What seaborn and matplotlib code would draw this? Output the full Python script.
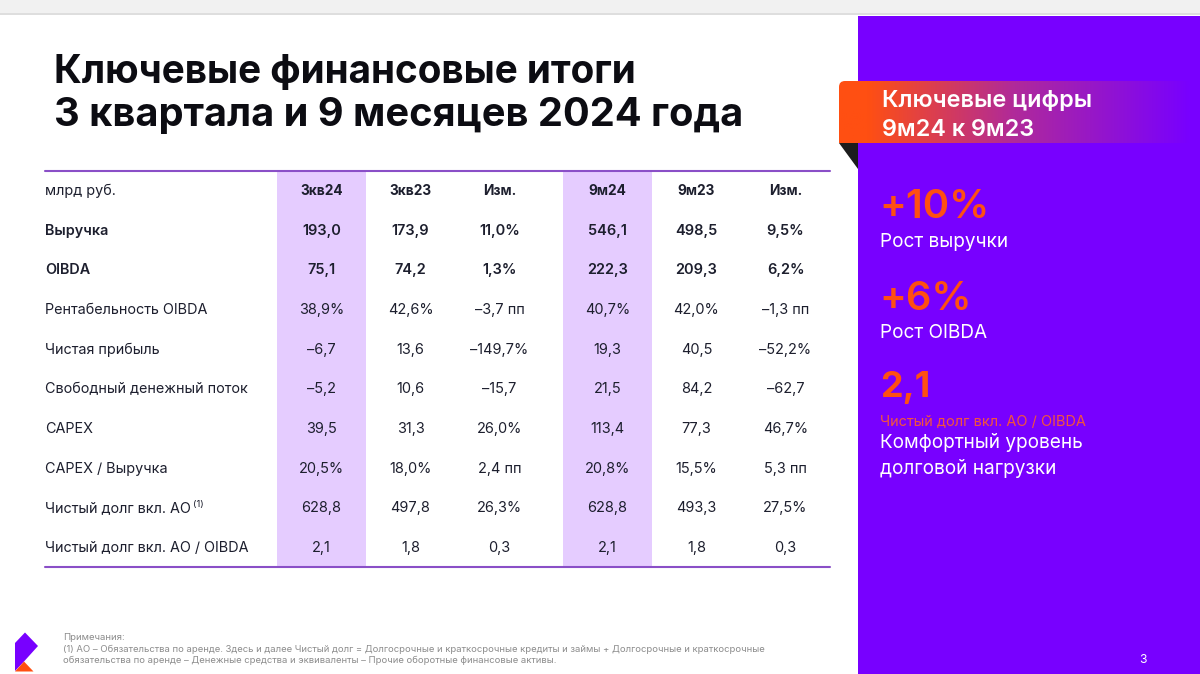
import numpy as np
import pandas as pd
import matplotlib.pyplot as plt
from matplotlib.patches import Polygon, Rectangle, FancyBboxPatch
from matplotlib.colors import LinearSegmentedColormap, ListedColormap
import seaborn as sns

sns.set_style("white")
plt.rcParams['font.family'] = ['Inter', 'DejaVu Sans']

W, H = 1200, 674
PURPLE = '#7800FF'
ORANGE = '#FF4F12'
INK = '#1d1f2e'

row_labels = ['млрд руб.', 'Выручка', 'OIBDA', 'Рентабельность OIBDA', 'Чистая прибыль',
              'Свободный денежный поток', 'CAPEX', 'CAPEX / Выручка',
              'Чистый долг вкл. АО', 'Чистый долг вкл. АО / OIBDA']
q3_24 = ['3кв24', '193,0', '75,1', '38,9%', '–6,7', '–5,2', '39,5', '20,5%', '628,8', '2,1']
q3_23 = ['3кв23', '173,9', '74,2', '42,6%', '13,6', '10,6', '31,3', '18,0%', '497,8', '1,8']
q3_chg = ['Изм.', '11,0%', '1,3%', '–3,7 пп', '–149,7%', '–15,7', '26,0%', '2,4 пп', '26,3%', '0,3']
m9_24 = ['9м24', '546,1', '222,3', '40,7%', '19,3', '21,5', '113,4', '20,8%', '628,8', '2,1']
m9_23 = ['9м23', '498,5', '209,3', '42,0%', '40,5', '84,2', '77,3', '15,5%', '493,3', '1,8']
m9_chg = ['Изм.', '9,5%', '6,2%', '–1,3 пп', '–52,2%', '–62,7', '46,7%', '5,3 пп', '27,5%', '0,3']
bold_rows = [0, 1, 2]

title_lines = ['Ключевые финансовые итоги', '3 квартала и 9 месяцев 2024 года']
note_lines = ['Примечания:',
              '(1) АО – Обязательства по аренде. Здесь и далее Чистый долг = Долгосрочные и краткосрочные кредиты и займы + Долгосрочные и краткосрочные',
              'обязательства по аренде – Денежные средства и эквиваленты – Прочие оборотные финансовые активы.']


def pt(px):
    return px * 0.72


def table_block(box, cols, labels=None):
    # one heatmap per group of three columns, only the first column is tinted
    x0, y0, x1, y1 = box
    ax = fig.add_axes([x0 / W, 1 - y1 / H, (x1 - x0) / W, (y1 - y0) / H])
    annot = np.array(cols).T
    tint = pd.DataFrame(np.zeros(annot.shape))
    tint[0] = 1
    sns.heatmap(tint, annot=annot, fmt='', cbar=False, vmin=0, vmax=1, ax=ax,
                cmap=ListedColormap(['white', '#E5CCFF']),
                annot_kws={'size': pt(14.5), 'color': INK},
                xticklabels=False, yticklabels=labels if labels else False)
    for i, t in enumerate(ax.texts):
        t.set_y(t.get_position()[1] + 0.025)
        if i // 3 == 0:
            t.set_fontweight('bold')
            t.set_fontsize(pt(13.7))
        elif i // 3 in bold_rows:
            t.set_fontweight('semibold')
    ax.patch.set_alpha(0)
    return ax


fig = plt.figure(figsize=(W / 100, H / 100), dpi=100, facecolor='white')

# page furniture drawn in pixel coordinates
bg = fig.add_axes([0, 0, 1, 1])
bg.axis('off')
bg.add_patch(Rectangle((0, 0), W, 13, color='#F1F1F1', lw=0))
bg.add_patch(Rectangle((0, 13), W, 1.5, color='#DEDEDE', lw=0))
bg.add_patch(Rectangle((858, 16), W - 858, H - 16, color=PURPLE, lw=0))

# ribbon with rounded corner, gradient clipped to it
ribbon = FancyBboxPatch((839, 81), 400, 62, boxstyle='round,pad=0,rounding_size=6', fc='none', ec='none')
bg.add_patch(ribbon)
grad = LinearSegmentedColormap.from_list('rib', [(0, ORANGE), (0.08, ORANGE), (0.5, '#B02A9A'), (1, PURPLE)])
img = bg.imshow(np.linspace(0, 1, 256)[None, :], extent=(839, 1190, 143, 81), cmap=grad, aspect='auto', zorder=2)
img.set_clip_path(ribbon)
bg.add_patch(Rectangle((839, 130), 8, 13, color=ORANGE, lw=0, zorder=2))
bg.set_xlim(0, W)
bg.set_ylim(H, 0)
bg.add_patch(Polygon([(839, 143), (858, 143), (858, 169)], color='#1c1c1c', lw=0))

# logo
bg.add_patch(Polygon([(15, 643), (25, 632.5), (38, 646), (24, 661.5), (15, 671)], color=PURPLE, lw=0))
bg.add_patch(Polygon([(15, 671.5), (33.5, 671.5), (24, 661.5)], color=ORANGE, lw=0))

# title
for y, size, line in zip([72, 115], [38.7, 39.8], title_lines):
    bg.text(54, y, line, fontsize=pt(size), fontweight='bold', color='#0c0c12', va='center', ha='left')

# table
table_block((277, 170, 544, 567), [q3_24, q3_23, q3_chg], labels=row_labels)
left = fig.axes[-1]
left.set_yticks(np.arange(len(row_labels)) + 0.525, labels=row_labels)
left.tick_params(axis='y', length=0, pad=pt(232), labelrotation=0)
for i, lab in enumerate(left.get_yticklabels()):
    lab.set_ha('left')
    lab.set_color(INK)
    lab.set_fontsize(pt(14.4))
    if i in bold_rows[1:]:
        lab.set_fontweight('semibold')
table_block((563, 170, 830, 567), [m9_24, m9_23, m9_chg])

top = fig.add_axes([0, 0, 1, 1])
top.set_xlim(0, W)
top.set_ylim(H, 0)
top.axis('off')
top.patch.set_alpha(0)
top.plot([45, 830], [170.5, 170.5], color='#8A4FC7', lw=1.5)
top.plot([45, 830], [567, 567], color='#8A4FC7', lw=1.5)
top.text(193, 505, '(1)', fontsize=pt(9.5), color=INK, va='center', ha='left')

# right panel
top.text(882, 101, 'Ключевые цифры', fontsize=pt(23.4), fontweight='semibold', color='white', va='center')
top.text(882, 130, '9м24 к 9м23', fontsize=pt(23.4), fontweight='semibold', color='white', va='center')
top.text(879, 207, '+10%', fontsize=pt(40), fontweight='semibold', color=ORANGE, va='center')
top.text(880, 242, 'Рост выручки', fontsize=pt(19), color='white', va='center')
top.text(879, 299, '+6%', fontsize=pt(40), fontweight='semibold', color=ORANGE, va='center')
top.text(880, 333, 'Рост OIBDA', fontsize=pt(19), color='white', va='center')
top.text(880, 388, '2,1', fontsize=pt(36), fontweight='bold', color=ORANGE, va='center')
top.text(880, 422, 'Чистый долг вкл. АО / OIBDA', fontsize=pt(14.5), color='#F2543D', va='center')
top.text(880, 443, 'Комфортный уровень', fontsize=pt(19), color='white', va='center')
top.text(880, 468, 'долговой нагрузки', fontsize=pt(19), color='white', va='center')
top.text(1143, 660, '3', fontsize=pt(12), color='white', va='center', ha='center')

# footnote
for y, line in zip([638, 649, 660], note_lines):
    top.text(63, y, line, fontsize=pt(9.5), color='#8c8c8c', va='center', ha='left')

plt.savefig('out.png', dpi=100)
